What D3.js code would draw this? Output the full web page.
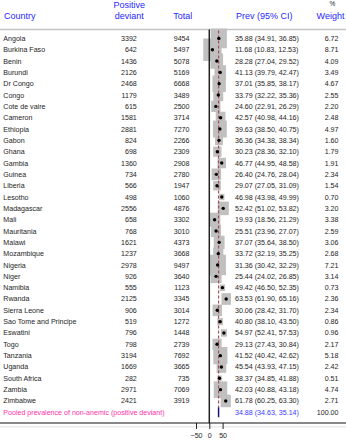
<!DOCTYPE html>
<html>
<head>
<meta charset="utf-8">
<script src="https://cdn.jsdelivr.net/npm/d3@7"></script>
<style>
  body { margin: 0; background: #fff; }
  svg { display: block; font-family: 'Liberation Sans', Arial, sans-serif; }
</style>
</head>
<body>
<svg id="chart" width="346" height="440"></svg>
<script>
const countries = ['Angola', 'Burkina Faso', 'Benin', 'Burundi', 'Dr Congo', 'Congo', 'Cote de vaire',
  'Cameron', 'Ethiopia', 'Gabon', 'Ghana', 'Gambia', 'Guinea', 'Liberia', 'Lesotho', 'Madagascar',
  'Mali', 'Mauritania', 'Malawi', 'Mozambique', 'Nigeria', 'Niger', 'Namibia', 'Rwanda', 'Sierra Leone',
  'Sao Tome and Principe', 'Eswatini', 'Togo', 'Tanzania', 'Uganda', 'South Africa', 'Zambia', 'Zimbabwe']
const positive = [3392, 642, 1436, 2126, 2468, 1179, 615, 1581, 2881, 824, 698, 1360, 734, 566, 498, 2556,
  658, 768, 1621, 1237, 2978, 926, 555, 2125, 906, 519, 796, 798, 3194, 1669, 282, 2971, 2421]
const total = [9454, 5497, 5078, 5169, 6668, 3489, 2500, 3714, 7270, 2266, 2309, 2908, 2780, 1947, 1060, 4876,
  3302, 3010, 4373, 3668, 9497, 3640, 1123, 3345, 3014, 1272, 1448, 2739, 7692, 3665, 735, 7069, 3919]
const prev = [35.88, 11.68, 28.28, 41.13, 37.01, 33.79, 24.60, 42.57, 39.63, 36.36, 30.23, 46.77, 26.40, 29.07,
  46.98, 52.42, 19.93, 25.51, 37.07, 33.72, 31.36, 25.44, 49.42, 63.53, 30.06, 40.80, 54.97, 29.13, 41.52,
  45.54, 38.37, 42.03, 61.78]
const lower = [34.91, 10.83, 27.04, 39.79, 35.85, 32.22, 22.91, 40.98, 38.50, 34.38, 28.36, 44.95, 24.76, 27.05,
  43.98, 51.02, 18.56, 23.96, 35.64, 32.19, 30.42, 24.02, 46.50, 61.90, 28.42, 38.10, 52.41, 27.43, 40.42,
  43.93, 34.85, 40.88, 60.25]
const upper = [36.85, 12.53, 29.52, 42.47, 38.17, 35.36, 26.29, 44.16, 40.75, 38.34, 32.10, 48.58, 28.04, 31.09,
  49.99, 53.82, 21.29, 27.07, 38.50, 35.25, 32.29, 26.85, 52.35, 65.16, 31.70, 43.50, 57.53, 30.84, 42.62,
  47.15, 41.88, 43.18, 63.30]
const weight = [6.72, 8.71, 4.09, 3.49, 4.67, 2.55, 2.20, 2.48, 4.97, 1.60, 1.79, 1.91, 2.34, 1.54, 0.70, 3.20,
  3.38, 2.59, 3.06, 2.68, 7.21, 3.14, 0.73, 2.36, 2.34, 0.86, 0.96, 2.17, 5.18, 2.42, 0.51, 4.74, 2.71]
const pooled = {label: 'Pooled prevalence of non-anemic (positive deviant)', est: 34.88, lo: 34.63, hi: 35.14, weight: 100.00}
const xTicks = [-50, 0, 50]

const svg = d3.select('#chart')
const f2 = d3.format('.2f')
const blue = '#2828ff'
const ink = '#1e1e1e'

const rowIdx = d3.range(countries.length + 1)
const y = d3.scalePoint().domain(rowIdx).range([38.4, 38.4 + countries.length * 11.33])
const x = d3.scaleLinear().domain([-50, 50]).range([196.0, 222.6])
const boxW = d3.scaleSqrt().domain([0, 1]).range([0, 6.2])
const boxH = d3.scaleSqrt().domain([0, 1]).range([0, 7.6])

const rows = countries.map((c, i) => ({
  country: c, positive: positive[i], total: total[i],
  prev: prev[i], lo: lower[i], hi: upper[i], weight: weight[i], i: i
}))

// header
const head = svg.append('g').attr('font-size', 9).attr('fill', blue)
head.append('text').attr('x', 4).attr('y', 18.5).text('Country')
head.append('text').attr('x', 129.3).attr('y', 7.5).attr('text-anchor', 'middle').text('Positive')
head.append('text').attr('x', 129.3).attr('y', 18.5).attr('text-anchor', 'middle').text('deviant')
head.append('text').attr('x', 173.3).attr('y', 18.5).text('Total')
head.append('text').attr('x', 236).attr('y', 18.5).text('Prev (95% CI)')
head.append('text').attr('x', 330.5).attr('y', 18.5).attr('text-anchor', 'middle').text('Weight')
svg.append('text').attr('x', 332.5).attr('y', 6).attr('text-anchor', 'middle')
  .attr('font-size', 6.5).attr('fill', ink).text('%')

svg.append('line').attr('x1', 0).attr('x2', 346).attr('y1', 29.5).attr('y2', 29.5)
  .attr('stroke', '#c4c4c4').attr('stroke-width', 1.5)

// boxes
svg.append('g').selectAll('rect').data(rows).enter().append('rect')
  .attr('x', (d) => x(d.prev) - boxW(d.weight) / 2)
  .attr('y', (d) => y(d.i) - boxH(d.weight) / 2)
  .attr('width', (d) => boxW(d.weight))
  .attr('height', (d) => boxH(d.weight))
  .attr('fill', '#c0c0c0')

// CI whiskers
svg.append('g').selectAll('line').data(rows).enter().append('line')
  .attr('x1', (d) => x(d.lo)).attr('x2', (d) => x(d.hi))
  .attr('y1', (d) => y(d.i)).attr('y2', (d) => y(d.i))
  .attr('stroke', '#000').attr('stroke-width', 1)

// null line
svg.append('line').attr('x1', x(0)).attr('x2', x(0)).attr('y1', 29.5).attr('y2', 423)
  .attr('stroke', '#222').attr('stroke-width', 1.5)

// pooled estimate dashed line
svg.append('line').attr('x1', x(pooled.est)).attr('x2', x(pooled.est))
  .attr('y1', 30.5).attr('y2', y(countries.length) - 5)
  .attr('stroke', '#a65252').attr('stroke-width', 1.2).attr('stroke-dasharray', '3,2')

// points
svg.append('g').selectAll('circle').data(rows).enter().append('circle')
  .attr('cx', (d) => x(d.prev)).attr('cy', (d) => y(d.i)).attr('r', 1.7).attr('fill', '#000')

// pooled diamond
const py = y(countries.length)
svg.append('polygon')
  .attr('points', [[x(pooled.lo), py], [x(pooled.est), py - 5], [x(pooled.hi), py], [x(pooled.est), py + 5]].join(' '))
  .attr('fill', '#141478').attr('stroke', '#141478').attr('stroke-width', 1.4)

// table text
const tbl = svg.append('g').attr('font-size', 7.1).attr('fill', ink)
const trs = tbl.selectAll('g.row').data(rows).enter().append('g').attr('class', 'row')
  .attr('transform', (d) => `translate(0, ${y(d.i)})`)
trs.append('text').attr('x', 3.3).attr('dy', '0.35em').text((d) => d.country)
trs.append('text').attr('x', 136.8).attr('dy', '0.35em').attr('text-anchor', 'end').text((d) => d.positive)
trs.append('text').attr('x', 189.5).attr('dy', '0.35em').attr('text-anchor', 'end').text((d) => d.total)
trs.append('text').attr('x', 235).attr('dy', '0.35em')
  .text((d) => `${f2(d.prev)} (${f2(d.lo)}, ${f2(d.hi)})`)
trs.append('text').attr('x', 338.5).attr('dy', '0.35em').attr('text-anchor', 'end').text((d) => f2(d.weight))

const pr = tbl.append('g').attr('transform', `translate(0, ${py})`)
pr.append('text').attr('x', 3.3).attr('dy', '0.35em').attr('fill', '#ff2fa8').text(pooled.label)
pr.append('text').attr('x', 235).attr('dy', '0.35em').attr('fill', '#3a3aff')
  .text(`${f2(pooled.est)} (${f2(pooled.lo)}, ${f2(pooled.hi)})`)
pr.append('text').attr('x', 338.5).attr('dy', '0.35em').attr('text-anchor', 'end').text(f2(pooled.weight))

// bottom axis
svg.append('line').attr('x1', 0).attr('x2', 346).attr('y1', 426.8).attr('y2', 426.8)
  .attr('stroke', '#e2e2e2').attr('stroke-width', 1)
const axis = svg.append('g').attr('transform', 'translate(0, 423)')
  .call(d3.axisBottom(x).tickValues(xTicks).tickSize(6).tickPadding(4))
axis.select('.domain').remove()
axis.selectAll('.tick line').attr('stroke', '#222')
axis.selectAll('.tick text').attr('font-size', 7.1).attr('fill', ink)
  .attr('font-family', "'Liberation Sans', Arial, sans-serif")
svg.append('line').attr('x1', 0).attr('x2', 346).attr('y1', 423).attr('y2', 423)
  .attr('stroke', '#111').attr('stroke-width', 1)
</script>
</body>
</html>
